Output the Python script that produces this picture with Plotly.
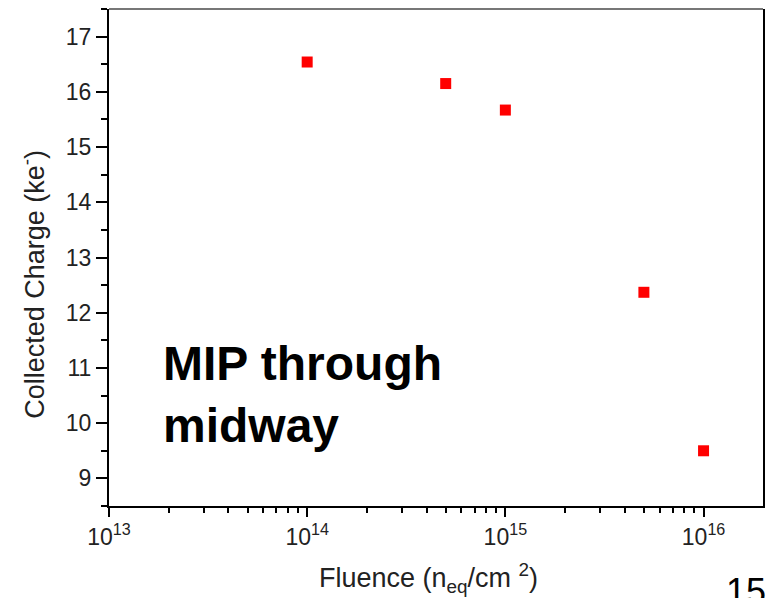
import plotly.graph_objects as go

# Collected charge vs. fluence
fluence = [1e14, 5e14, 1e15, 5e15, 1e16]
charge = [16.54, 16.15, 15.67, 12.37, 9.50]

x_major = [1e13, 1e14, 1e15, 1e16]
x_major_text = ["10<sup>13</sup>", "10<sup>14</sup>", "10<sup>15</sup>", "10<sup>16</sup>"]
y_major = [9, 10, 11, 12, 13, 14, 15, 16, 17]

FONT = "Arial, 'Liberation Sans', sans-serif"
TXT = "#222222"

x_minor = [m * d for d in (1e13, 1e14, 1e15, 1e16) for m in range(2, 10) if m * d < 2e16]
y_minor = [v + 0.5 for v in range(8, 18)]

fig = go.Figure()
fig.add_trace(go.Scatter(
    x=fluence, y=charge, mode="markers",
    marker=dict(symbol="square", size=11, color="#ff0000", line=dict(width=0)),
    showlegend=False,
))

fig.update_layout(
    width=770, height=598,
    margin=dict(l=109, r=5, t=9, b=92),
    paper_bgcolor="white", plot_bgcolor="white",
    font=dict(family=FONT, color=TXT),
    xaxis=dict(
        type="log", range=[13, 16.3],
        tickvals=x_major, ticktext=x_major_text,
        ticks="outside", ticklen=9, tickwidth=2, tickcolor="black",
        showline=True, linewidth=2, linecolor="black",
        showgrid=False, zeroline=False,
        tickfont=dict(size=23, color=TXT),
        minor=dict(tickvals=x_minor, ticks="outside", ticklen=5,
                   tickwidth=2, tickcolor="black", showgrid=False),
    ),
    yaxis=dict(
        range=[8.5, 17.5],
        tickvals=y_major,
        ticks="outside", ticklen=11, tickwidth=2, tickcolor="black",
        showline=True, linewidth=2, linecolor="black", mirror=True,
        showgrid=False, zeroline=False,
        tickfont=dict(size=23, color=TXT),
        minor=dict(tickvals=y_minor, ticks="outside", ticklen=6,
                   tickwidth=2, tickcolor="black", showgrid=False),
    ),
    shapes=[
        dict(type="line", xref="paper", yref="paper", x0=0, x1=1, y0=1, y1=1,
             line=dict(color="#777777", width=2)),
    ],
    annotations=[
        dict(text="Collected Charge (ke<sup>-</sup>)", textangle=-90,
             xref="paper", yref="paper", x=0, y=0.445,
             xanchor="center", yanchor="middle", xshift=-76,
             showarrow=False, font=dict(size=27, color=TXT)),
        dict(text="Fluence (n<sub>eq</sub>/cm <sup>2</sup>)",
             xref="paper", yref="paper", x=0.488, y=0,
             xanchor="center", yanchor="middle", yshift=-72,
             showarrow=False, font=dict(size=27, color=TXT)),
        dict(text="<b>MIP through<br>midway</b>",
             xref="paper", yref="paper", x=0.08, y=0.225,
             xanchor="left", yanchor="middle", align="left",
             showarrow=False, font=dict(size=48, color="black")),
        dict(text="15", xref="paper", yref="paper", x=1, y=0,
             xanchor="right", yanchor="top", xshift=5, yshift=-63,
             showarrow=False, font=dict(size=36, color="black")),
    ],
)

fig.write_html("out.html")
